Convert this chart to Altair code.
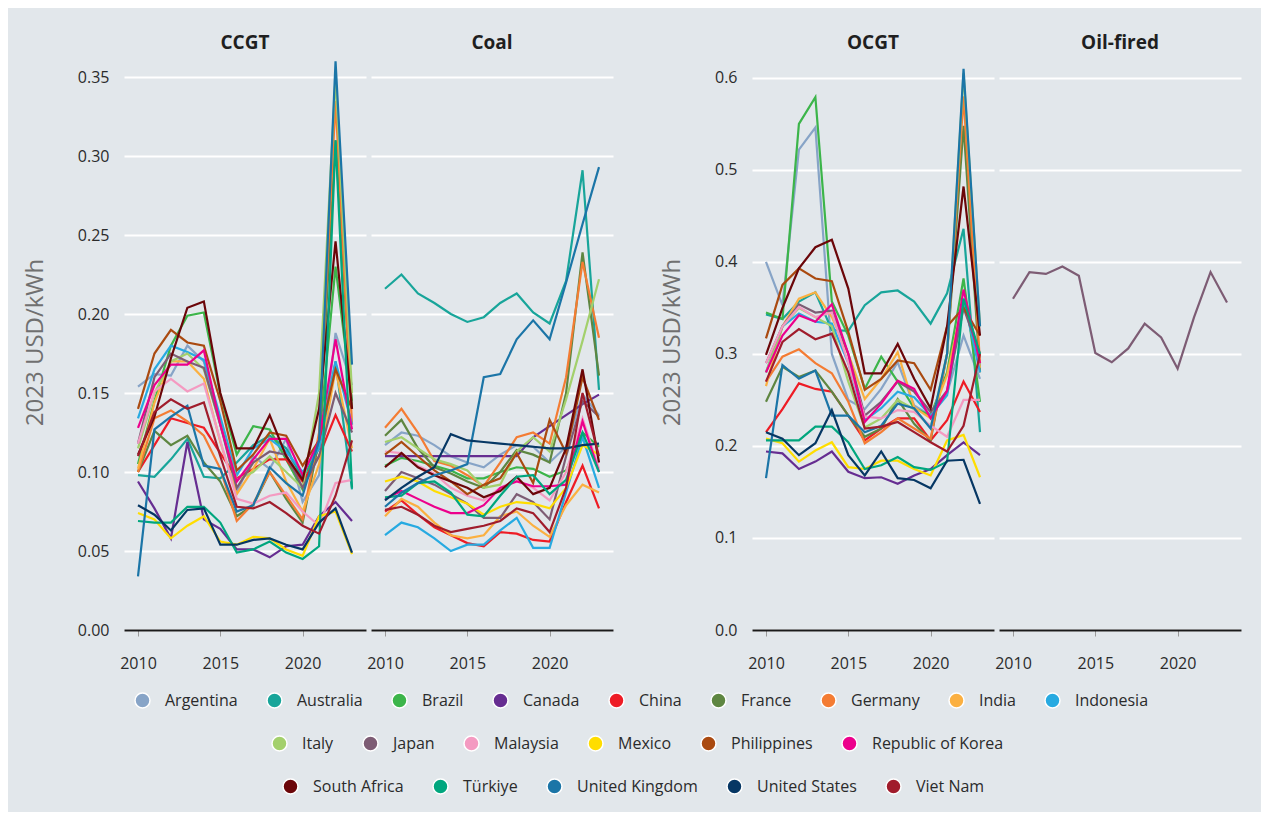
import altair as alt
import pandas as pd

YEARS = list(range(2010, 2024))

COUNTRIES = [
    "Argentina", "Australia", "Brazil", "Canada", "China", "France", "Germany",
    "India", "Indonesia", "Italy", "Japan", "Malaysia", "Mexico", "Philippines",
    "Republic of Korea", "South Africa", "Türkiye", "United Kingdom",
    "United States", "Viet Nam",
]
COLORS = [
    "#87a4c7", "#18a59a", "#3cb54a", "#662d91", "#ee1c25", "#5e8641", "#f47c33",
    "#fbb041", "#27aae1", "#a3d06c", "#7d5c74", "#f49ac1", "#ffdd00", "#aa4a10",
    "#ec008c", "#6b0609", "#00a67e", "#1b75a7", "#063764", "#a01c2c",
]

LEGEND_ROW_1 = COUNTRIES[:9]
LEGEND_ROW_2 = COUNTRIES[9:15]
LEGEND_ROW_3 = COUNTRIES[15:]

CCGT = {
    "Argentina": [0.154, 0.162, 0.161, 0.180, 0.170, 0.132, 0.087, 0.110, 0.102, 0.121, 0.081, 0.098, 0.188, 0.155],
    "Australia": [0.098, 0.097, 0.108, 0.121, 0.097, 0.096, 0.106, 0.117, 0.123, 0.115, 0.096, 0.115, 0.170, 0.089],
    "Brazil": [0.105, 0.145, 0.180, 0.199, 0.201, 0.149, 0.111, 0.129, 0.127, 0.108, 0.089, 0.120, 0.230, 0.145],
    "Canada": [0.094, 0.077, 0.058, 0.119, 0.070, 0.064, 0.051, 0.051, 0.046, 0.053, 0.054, 0.072, 0.081, 0.069],
    "China": [0.100, 0.117, 0.134, 0.131, 0.128, 0.112, 0.096, 0.102, 0.108, 0.108, 0.094, 0.110, 0.136, 0.113],
    "France": [0.100, 0.126, 0.117, 0.123, 0.106, 0.094, 0.072, 0.079, 0.100, 0.083, 0.068, 0.120, 0.310, 0.140],
    "Germany": [0.100, 0.134, 0.139, 0.132, 0.123, 0.102, 0.069, 0.080, 0.100, 0.085, 0.070, 0.125, 0.335, 0.130],
    "India": [0.102, 0.144, 0.170, 0.170, 0.159, 0.119, 0.086, 0.102, 0.121, 0.094, 0.075, 0.105, 0.165, 0.115],
    "Indonesia": [0.134, 0.165, 0.180, 0.176, 0.171, 0.135, 0.098, 0.115, 0.121, 0.113, 0.100, 0.115, 0.170, 0.130],
    "Italy": [0.115, 0.150, 0.170, 0.175, 0.165, 0.130, 0.095, 0.100, 0.110, 0.100, 0.090, 0.150, 0.350, 0.150],
    "Japan": [0.118, 0.160, 0.175, 0.170, 0.166, 0.130, 0.090, 0.106, 0.113, 0.111, 0.090, 0.110, 0.150, 0.125],
    "Malaysia": [0.118, 0.151, 0.159, 0.151, 0.156, 0.120, 0.083, 0.080, 0.085, 0.087, 0.075, 0.066, 0.093, 0.095],
    "Mexico": [0.074, 0.070, 0.058, 0.066, 0.072, 0.056, 0.054, 0.059, 0.058, 0.051, 0.047, 0.072, 0.075, 0.048],
    "Philippines": [0.140, 0.175, 0.190, 0.182, 0.180, 0.145, 0.101, 0.111, 0.125, 0.123, 0.104, 0.120, 0.165, 0.140],
    "Republic of Korea": [0.128, 0.155, 0.168, 0.168, 0.177, 0.130, 0.094, 0.108, 0.121, 0.121, 0.098, 0.120, 0.184, 0.127],
    "South Africa": [0.111, 0.135, 0.172, 0.204, 0.208, 0.150, 0.115, 0.115, 0.136, 0.110, 0.095, 0.140, 0.246, 0.140],
    "Türkiye": [0.069, 0.068, 0.068, 0.078, 0.078, 0.068, 0.049, 0.051, 0.056, 0.049, 0.045, 0.053, 0.310, 0.090],
    "United Kingdom": [0.034, 0.127, 0.135, 0.142, 0.104, 0.102, 0.075, 0.079, 0.103, 0.093, 0.085, 0.120, 0.360, 0.168],
    "United States": [0.079, 0.073, 0.063, 0.076, 0.077, 0.054, 0.054, 0.057, 0.058, 0.054, 0.051, 0.068, 0.077, 0.049],
    "Viet Nam": [0.110, 0.138, 0.146, 0.140, 0.144, 0.110, 0.078, 0.077, 0.081, 0.074, 0.066, 0.061, 0.085, 0.120],
}

COAL = {
    "Argentina": [0.117, 0.125, 0.123, 0.117, 0.110, 0.106, 0.103, 0.111, 0.117, 0.116, 0.106, 0.116, 0.149, 0.136],
    "Australia": [0.216, 0.225, 0.213, 0.207, 0.200, 0.195, 0.198, 0.207, 0.213, 0.201, 0.194, 0.221, 0.291, 0.152],
    "Brazil": [0.104, 0.109, 0.107, 0.104, 0.101, 0.096, 0.096, 0.100, 0.103, 0.102, 0.097, 0.101, 0.125, 0.116],
    "Canada": [0.110, 0.110, 0.110, 0.110, 0.110, 0.110, 0.110, 0.110, 0.110, 0.122, 0.129, 0.136, 0.143, 0.149],
    "China": [0.075, 0.082, 0.073, 0.065, 0.060, 0.055, 0.053, 0.062, 0.061, 0.057, 0.056, 0.081, 0.104, 0.077],
    "France": [0.123, 0.133, 0.115, 0.103, 0.099, 0.094, 0.090, 0.100, 0.114, 0.111, 0.106, 0.150, 0.239, 0.161],
    "Germany": [0.128, 0.140, 0.125, 0.107, 0.104, 0.098, 0.091, 0.106, 0.122, 0.125, 0.118, 0.160, 0.233, 0.185],
    "India": [0.072, 0.083, 0.078, 0.068, 0.060, 0.058, 0.060, 0.072, 0.075, 0.066, 0.059, 0.079, 0.092, 0.087],
    "Indonesia": [0.060, 0.068, 0.065, 0.058, 0.050, 0.054, 0.054, 0.063, 0.071, 0.052, 0.052, 0.087, 0.122, 0.090],
    "Italy": [0.119, 0.122, 0.115, 0.108, 0.105, 0.101, 0.090, 0.092, 0.113, 0.122, 0.113, 0.146, 0.183, 0.222],
    "Japan": [0.088, 0.100, 0.096, 0.092, 0.086, 0.080, 0.071, 0.071, 0.086, 0.081, 0.070, 0.110, 0.145, 0.135],
    "Malaysia": [0.113, 0.112, 0.104, 0.099, 0.090, 0.085, 0.082, 0.090, 0.095, 0.090, 0.082, 0.100, 0.134, 0.102],
    "Mexico": [0.094, 0.097, 0.094, 0.088, 0.084, 0.080, 0.073, 0.078, 0.081, 0.080, 0.077, 0.090, 0.117, 0.111],
    "Philippines": [0.111, 0.119, 0.110, 0.101, 0.094, 0.086, 0.092, 0.096, 0.112, 0.093, 0.133, 0.112, 0.160, 0.133],
    "Republic of Korea": [0.083, 0.088, 0.083, 0.078, 0.074, 0.074, 0.079, 0.090, 0.094, 0.091, 0.091, 0.092, 0.132, 0.100],
    "South Africa": [0.103, 0.112, 0.103, 0.098, 0.094, 0.090, 0.084, 0.088, 0.097, 0.086, 0.090, 0.115, 0.165, 0.106],
    "Türkiye": [0.084, 0.085, 0.093, 0.094, 0.087, 0.073, 0.072, 0.085, 0.097, 0.098, 0.086, 0.095, 0.125, 0.100],
    "United Kingdom": [0.078, 0.087, 0.093, 0.098, 0.101, 0.105, 0.160, 0.162, 0.184, 0.196, 0.184, 0.220, 0.257, 0.293],
    "United States": [0.082, 0.090, 0.097, 0.103, 0.124, 0.120, 0.119, 0.118, 0.117, 0.116, 0.115, 0.115, 0.117, 0.118],
    "Viet Nam": [0.076, 0.078, 0.073, 0.066, 0.062, 0.064, 0.066, 0.069, 0.077, 0.074, 0.062, 0.090, 0.150, 0.110],
}

OCGT = {
    "Argentina": [0.400, 0.353, 0.522, 0.546, 0.300, 0.250, 0.240, 0.262, 0.291, 0.244, 0.233, 0.257, 0.320, 0.273],
    "Australia": [0.343, 0.338, 0.357, 0.367, 0.326, 0.325, 0.353, 0.367, 0.369, 0.357, 0.333, 0.366, 0.436, 0.215],
    "Brazil": [0.345, 0.338, 0.550, 0.579, 0.357, 0.320, 0.262, 0.297, 0.270, 0.241, 0.233, 0.280, 0.382, 0.248],
    "Canada": [0.194, 0.192, 0.175, 0.183, 0.194, 0.172, 0.165, 0.166, 0.159, 0.168, 0.175, 0.190, 0.204, 0.190],
    "China": [0.215, 0.240, 0.268, 0.262, 0.259, 0.233, 0.206, 0.219, 0.230, 0.230, 0.206, 0.228, 0.270, 0.237],
    "France": [0.248, 0.286, 0.275, 0.282, 0.259, 0.233, 0.210, 0.219, 0.251, 0.224, 0.206, 0.300, 0.548, 0.280],
    "Germany": [0.270, 0.297, 0.305, 0.290, 0.279, 0.248, 0.203, 0.215, 0.230, 0.219, 0.208, 0.300, 0.580, 0.290],
    "India": [0.265, 0.330, 0.360, 0.367, 0.340, 0.300, 0.251, 0.273, 0.302, 0.242, 0.230, 0.277, 0.360, 0.285],
    "Indonesia": [0.280, 0.330, 0.344, 0.335, 0.333, 0.290, 0.228, 0.241, 0.259, 0.253, 0.233, 0.255, 0.360, 0.280],
    "Italy": [0.280, 0.330, 0.350, 0.340, 0.330, 0.270, 0.220, 0.230, 0.250, 0.240, 0.220, 0.300, 0.605, 0.330],
    "Japan": [0.290, 0.330, 0.354, 0.345, 0.347, 0.300, 0.233, 0.248, 0.270, 0.259, 0.237, 0.260, 0.350, 0.300],
    "Malaysia": [0.290, 0.330, 0.351, 0.340, 0.345, 0.290, 0.232, 0.230, 0.239, 0.237, 0.222, 0.210, 0.250, 0.250],
    "Mexico": [0.208, 0.203, 0.183, 0.195, 0.204, 0.177, 0.175, 0.184, 0.184, 0.175, 0.168, 0.206, 0.212, 0.166],
    "Philippines": [0.317, 0.375, 0.393, 0.382, 0.379, 0.324, 0.261, 0.273, 0.293, 0.290, 0.261, 0.330, 0.350, 0.320],
    "Republic of Korea": [0.280, 0.320, 0.342, 0.335, 0.354, 0.300, 0.226, 0.246, 0.271, 0.262, 0.230, 0.260, 0.370, 0.290],
    "South Africa": [0.299, 0.350, 0.393, 0.416, 0.424, 0.371, 0.279, 0.279, 0.311, 0.273, 0.241, 0.330, 0.482, 0.320],
    "Türkiye": [0.206, 0.206, 0.206, 0.221, 0.221, 0.204, 0.175, 0.179, 0.188, 0.177, 0.174, 0.183, 0.360, 0.300],
    "United Kingdom": [0.165, 0.288, 0.273, 0.282, 0.233, 0.233, 0.215, 0.222, 0.246, 0.241, 0.219, 0.300, 0.610, 0.330],
    "United States": [0.215, 0.208, 0.190, 0.203, 0.239, 0.190, 0.168, 0.194, 0.165, 0.163, 0.154, 0.184, 0.185, 0.137],
    "Viet Nam": [0.270, 0.313, 0.327, 0.316, 0.322, 0.280, 0.219, 0.221, 0.226, 0.215, 0.204, 0.194, 0.222, 0.300],
}

OIL_FIRED = {
    "Japan": [0.360, 0.389, 0.387, 0.395, 0.385, 0.301, 0.291, 0.306, 0.333, 0.318, 0.284, 0.340, 0.389, 0.356],
}

LEFT_TICKS = [0.0, 0.05, 0.10, 0.15, 0.20, 0.25, 0.30, 0.35]
RIGHT_TICKS = [0.0, 0.1, 0.2, 0.3, 0.4, 0.5, 0.6]
X_TICKS = [2010, 2015, 2020]

FONT = "Open Sans"
BG = "#e2e7eb"
TEXT = "#2b2b2b"


def to_long(table):
    rows = []
    for name, vals in table.items():
        for yr, v in zip(YEARS, vals):
            rows.append({"country": name, "year": yr, "value": v})
    return pd.DataFrame(rows)


line_color = alt.Color(
    "country:N", scale=alt.Scale(domain=COUNTRIES, range=COLORS), legend=None
)


def panel(table, title, ymax, yticks, yfmt, show_y):
    if show_y:
        yaxis = alt.Axis(
            values=yticks, format=yfmt, title="2023 USD/kWh", grid=True,
            gridColor="white", gridWidth=2, domain=False, ticks=False,
            labelPadding=15, titlePadding=30, labelFontSize=16, labelColor=TEXT,
            titleFontSize=24, titleFontWeight="normal", titleColor="#707070",
        )
    else:
        yaxis = alt.Axis(
            values=yticks, title=None, labels=False, grid=True,
            gridColor="white", gridWidth=2, domain=False, ticks=False,
        )
    xaxis = alt.Axis(
        values=X_TICKS, format="d", title=None, grid=False,
        domainColor="#1a1a1a", domainWidth=2, tickColor="#9a9a9a", tickSize=6,
        labelPadding=19, labelFontSize=16, labelColor=TEXT, labelFlush=False,
    )
    return (
        alt.Chart(to_long(table))
        .mark_line(strokeWidth=2.2)
        .encode(
            x=alt.X("year:Q", scale=alt.Scale(domain=[2009.15, 2023.85], nice=False, zero=False), axis=xaxis),
            y=alt.Y("value:Q", scale=alt.Scale(domain=[0, ymax], nice=False), axis=yaxis),
            color=line_color,
        )
        .properties(
            width=242, height=576,
            title=alt.TitleParams(title, fontSize=19, fontWeight="bold", color="#1f1f1f", offset=1),
        )
    )


ccgt = panel(CCGT, "CCGT", 0.3646, LEFT_TICKS, ".2f", True)
coal = panel(COAL, "Coal", 0.3646, LEFT_TICKS, ".2f", False)
ocgt = panel(OCGT, "OCGT", 0.626, RIGHT_TICKS, ".1f", True)
oil = panel(OIL_FIRED, "Oil-fired", 0.626, RIGHT_TICKS, ".1f", False)

left = alt.hconcat(ccgt, coal, spacing=0)
right = alt.hconcat(ocgt, oil, spacing=0)
top = alt.hconcat(left, right, spacing=47)


def legend_row(names, x_start, y_start):
    cols = [COLORS[COUNTRIES.index(n)] for n in names]
    return (
        alt.Chart(pd.DataFrame({"country": names}))
        .mark_point(filled=True, size=0, opacity=0)
        .encode(
            color=alt.Color(
                "country:N",
                scale=alt.Scale(domain=names, range=cols),
                legend=alt.Legend(
                    title=None, orient="none", legendX=x_start, legendY=y_start,
                    direction="horizontal",
                    symbolType="circle", symbolSize=225, symbolOpacity=1,
                    symbolStrokeColor="white", symbolStrokeWidth=1.5,
                    labelFontSize=16, labelColor=TEXT, labelFont=FONT,
                    labelOffset=14, columnPadding=26, padding=0,
                ),
            )
        )
    )


legend_block = (
    alt.layer(
        legend_row(LEGEND_ROW_1, 10, 0),
        legend_row(LEGEND_ROW_2, 147, 43),
        legend_row(LEGEND_ROW_3, 158, 86),
    )
    .resolve_scale(color="independent")
    .properties(width=1, height=1)
)

chart = (
    alt.vconcat(top, legend_block, spacing=21)
    .resolve_scale(color="independent")
    .properties(background=BG, padding={"left": 15, "top": 26, "right": 20, "bottom": 15})
    .configure(font=FONT)
    .configure_view(stroke=None)
    .configure_axis(labelFont=FONT, titleFont=FONT)
    .configure_title(font=FONT, anchor="middle")
    .configure_legend(labelFont=FONT)
)

chart.save("out.html", embed_options={"renderer": "svg", "actions": False})
